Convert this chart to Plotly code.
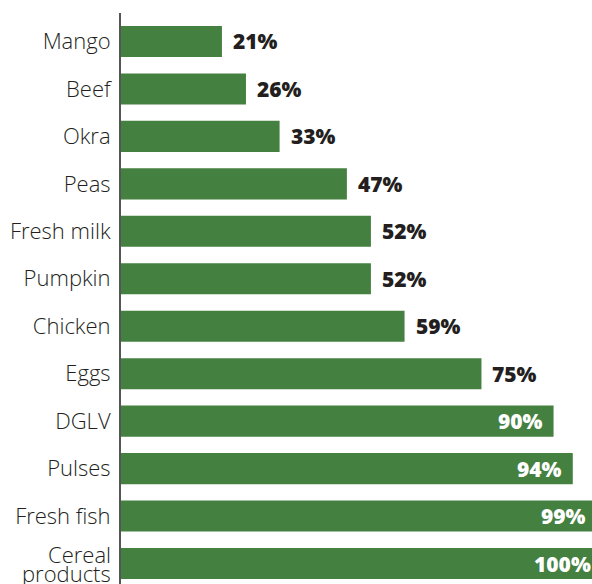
import plotly.graph_objects as go

categories = ["Mango", "Beef", "Okra", "Peas", "Fresh milk", "Pumpkin", "Chicken",
              "Eggs", "DGLV", "Pulses", "Fresh fish", "Cereal products"]
values = [21, 26, 33, 47, 52, 52, 59, 75, 90, 94, 99, 100]
labels = [f"{v}%" for v in values]
inside_threshold = 85
X_MAX = 98  # visible end of the value axis (the longest bars run past the frame)

GREEN = "#44803f"
DARK = "#231f20"
VALUE_FONT = "'Open Sans', Lato, sans-serif"
CAT_FONT = dict(family="'Open Sans', sans-serif", size=22, color=DARK, weight=300)

inside = [v >= inside_threshold for v in values]

fig = go.Figure()
fig.add_trace(go.Bar(
    y=categories, x=values, orientation="h",
    marker=dict(color=GREEN, line=dict(width=0)),
    width=0.655, hoverinfo="skip",
))

annotations = []
# value labels at each bar's end (axis-domain units so labels of bars running
# past the frame are still drawn)
for c, v, t, ins in zip(categories, values, labels, inside):
    annotations.append(dict(
        x=v / X_MAX, xref="x domain", y=c, yref="y",
        text=t, showarrow=False,
        xanchor="right" if ins else "left",
        xshift=-9 if ins else 9, yshift=0,
        font=dict(family=VALUE_FONT, size=21, weight=800,
                  color="white" if ins else DARK),
    ))

# category labels: single-line ones as ticks; two-word long one set tightly
tick_text = []
for c in categories:
    if len(c) > 12:
        tick_text.append("")
        words = c.split(" ")
        for w, dy in zip(words, (10, -9.5)):
            annotations.append(dict(
                x=0, xref="paper", y=c, yref="y", text=w, showarrow=False,
                xanchor="right", xshift=-8, yshift=dy, font=CAT_FONT,
            ))
    else:
        tick_text.append(c)

fig.update_layout(
    width=592, height=584,
    margin=dict(l=121, r=0, t=13, b=0, pad=0, autoexpand=False),
    paper_bgcolor="white", plot_bgcolor="white",
    showlegend=False,
    annotations=annotations,
    xaxis=dict(range=[0, X_MAX], visible=False, showgrid=False, zeroline=False,
               automargin=False),
    yaxis=dict(type="category", categoryorder="array", categoryarray=categories,
               tickmode="array", tickvals=categories, ticktext=tick_text,
               range=[11.432, -0.6], showgrid=False, zeroline=False,
               automargin=False,
               showline=True, linecolor="#555555", linewidth=2,
               ticks="", ticklabelstandoff=4, tickfont=CAT_FONT),
)

fig.write_html("out.html")
